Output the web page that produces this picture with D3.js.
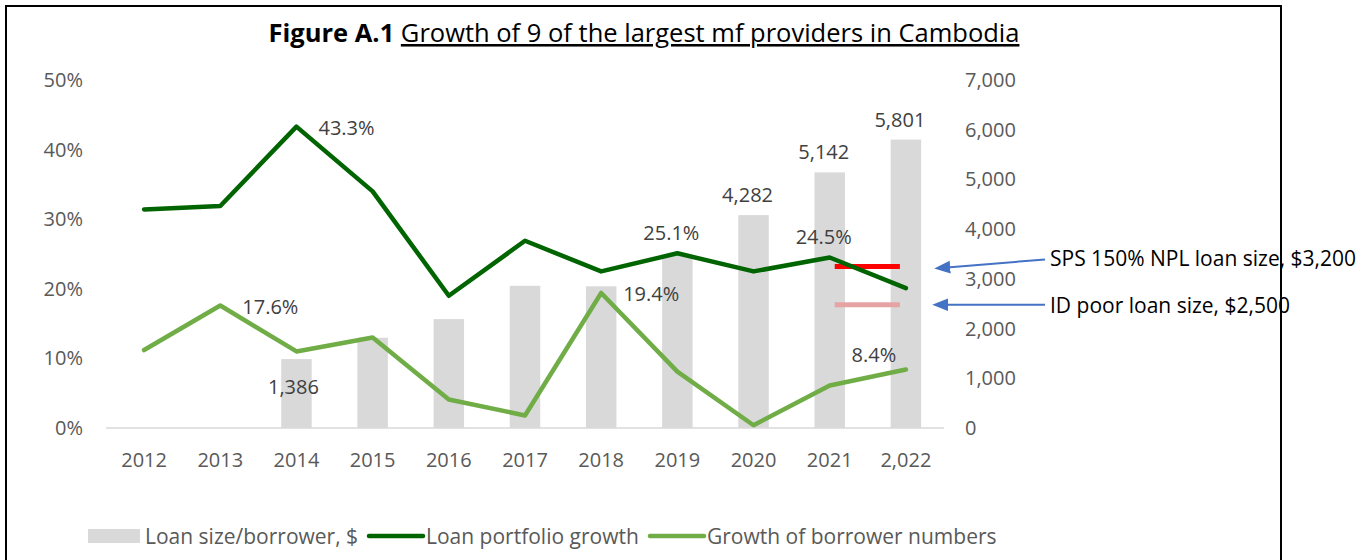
<!DOCTYPE html>
<meta charset="utf-8">
<style>
 body {
   margin: 0;
   background-color: #fff;
 }

 svg {
   font-family: "Open Sans", sans-serif;
 }

 .tick-label {
   fill: #595959;
   font-size: 20px;
 }

 .data-label {
   fill: #404040;
   font-size: 20px;
 }

 .legend text {
   fill: #595959;
   font-size: 21px;
   dominant-baseline: central;
 }

 .note {
   fill: #000;
   font-size: 21px;
   dominant-baseline: central;
 }

 marker {
   fill: #4472c4;
 }
</style>

<svg width="1369" height="560">
  <defs>
    <marker id="arrow" viewBox="0 -5 10 10" refX="2" refY="0" markerWidth="8" markerHeight="8" orient="auto">
      <path d="M0,-4L10,0L0,4z"/>
    </marker>
  </defs>
</svg>

<script src="https://cdn.jsdelivr.net/npm/d3@7"></script>
<script>

 var years = ['2012', '2013', '2014', '2015', '2016', '2017', '2018', '2019', '2020', '2021', '2,022']
 // loan size per borrower, $ (no bar for 2012/2013)
 var loanSize = [null, null, 1386, 1815, 2190, 2860, 2850, 3470, 4282, 5142, 5801]
 // growth, %
 var portfolioGrowth = [31.4, 31.9, 43.3, 34.0, 19.0, 26.9, 22.5, 25.1, 22.5, 24.5, 20.1]
 var borrowerGrowth = [11.2, 17.6, 11.0, 13.0, 4.1, 1.8, 19.4, 8.1, 0.4, 6.1, 8.4]

 var pctTicks = [0, 10, 20, 30, 40, 50]
 var usdTicks = [0, 1000, 2000, 3000, 4000, 5000, 6000, 7000]

 // which points get a value label, and where
 var barLabels = {'2014': 'inside', '2020': 'top', '2021': 'top', '2,022': 'top'}
 var portfolioLabels = {'2014': 'right', '2019': 'top', '2021': 'top'}
 var borrowerLabels = {'2013': 'right', '2018': 'right', '2,022': 'topleft'}

 var spsLoan = 3250
 var idPoorLoan = 2480
 var spsText = 'SPS 150% NPL loan size, $3,200'
 var idText = 'ID poor loan size, $2,500'

 var svg = d3.select('svg')

 // frame
 svg.append('path')
    .attr('d', 'M6,560 L6,6 L1281,6 L1281,560')
    .attr('fill', 'none')
    .attr('stroke', '#000')
    .attr('stroke-width', 2)

 var plotL = 106, plotR = 944, plotT = 80, plotB = 428

 var x = d3.scaleBand()
           .domain(years)
           .range([plotL, plotR])
           .paddingInner(0.6)
           .paddingOuter(0.3)
 var cx = d => x(d) + x.bandwidth() / 2

 var yPct = d3.scaleLinear().domain([0, 50]).range([plotB, plotT])
 var yUsd = d3.scaleLinear().domain([0, 7000]).range([plotB, plotT])

 // title
 var title = svg.append('text')
                .attr('x', 644)
                .attr('y', 42)
                .attr('text-anchor', 'middle')
                .style('font-size', '25.5px')
                .attr('fill', '#000')
 title.append('tspan').attr('font-weight', 'bold').text('Figure A.1 ')
 title.append('tspan').attr('text-decoration', 'underline').text('Growth of 9 of the largest mf providers in Cambodia')

 // axes labels
 svg.append('g').selectAll('text')
    .data(pctTicks)
    .join('text')
    .attr('class', 'tick-label')
    .attr('x', 83)
    .attr('y', d => yPct(d))
    .attr('dy', '0.35em')
    .attr('text-anchor', 'end')
    .text(d => d + '%')

 svg.append('g').selectAll('text')
    .data(usdTicks)
    .join('text')
    .attr('class', 'tick-label')
    .attr('x', 965)
    .attr('y', d => yUsd(d))
    .attr('dy', '0.35em')
    .attr('text-anchor', 'start')
    .text(d3.format(','))

 svg.append('g').selectAll('text')
    .data(years)
    .join('text')
    .attr('class', 'tick-label')
    .attr('x', cx)
    .attr('y', 460)
    .attr('dy', '0.35em')
    .attr('text-anchor', 'middle')
    .text(d => d)

 // bars
 var barData = years.map((d, i) => ({year: d, v: loanSize[i]})).filter(d => d.v != null)
 svg.append('g').selectAll('rect')
    .data(barData)
    .join('rect')
    .attr('x', d => x(d.year))
    .attr('width', x.bandwidth())
    .attr('y', d => yUsd(d.v))
    .attr('height', d => yUsd(0) - yUsd(d.v))
    .attr('fill', '#d9d9d9')

 // baseline
 svg.append('line')
    .attr('x1', plotL).attr('x2', plotR)
    .attr('y1', plotB).attr('y2', plotB)
    .attr('stroke', '#d9d9d9')
    .attr('stroke-width', 1.5)

 // reference loan sizes
 var refX1 = cx('2021') + 5, refX2 = cx('2,022') - 6
 svg.append('line')
    .attr('x1', refX1).attr('x2', refX2)
    .attr('y1', yUsd(spsLoan)).attr('y2', yUsd(spsLoan))
    .attr('stroke', '#ff0000').attr('stroke-width', 5)
 svg.append('line')
    .attr('x1', refX1).attr('x2', refX2)
    .attr('y1', yUsd(idPoorLoan)).attr('y2', yUsd(idPoorLoan))
    .attr('stroke', '#e6a3a3').attr('stroke-width', 5)

 // lines
 var line = d3.line().x(d => cx(d.year)).y(d => yPct(d.v))
 var pData = years.map((d, i) => ({year: d, v: portfolioGrowth[i]}))
 var bData = years.map((d, i) => ({year: d, v: borrowerGrowth[i]}))

 svg.append('path')
    .datum(bData)
    .attr('d', line)
    .attr('fill', 'none')
    .attr('stroke', '#70ad47')
    .attr('stroke-width', 4.5)
    .attr('stroke-linejoin', 'round')
    .attr('stroke-linecap', 'round')

 svg.append('path')
    .datum(pData)
    .attr('d', line)
    .attr('fill', 'none')
    .attr('stroke', '#006400')
    .attr('stroke-width', 4.5)
    .attr('stroke-linejoin', 'round')
    .attr('stroke-linecap', 'round')

 // value labels
 function pointLabel(data, spots, y, fmt) {
   svg.append('g').selectAll('text')
      .data(data.filter(d => spots[d.year]))
      .join('text')
      .attr('class', 'data-label')
      .attr('dy', '0.35em')
      .each(function(d) {
        var pos = spots[d.year], el = d3.select(this)
        var px = cx(d.year), py = y(d.v)
        if (pos == 'right') el.attr('x', px + 22).attr('y', py + 1).attr('text-anchor', 'start')
        else if (pos == 'top') el.attr('x', px - 6).attr('y', py - 20).attr('text-anchor', 'middle')
        else if (pos == 'topleft') el.attr('x', px - 32).attr('y', py - 15).attr('text-anchor', 'middle')
        else if (pos == 'inside') el.attr('x', px - 3).attr('y', py + 28).attr('text-anchor', 'middle')
      })
      .text(fmt)
 }
 pointLabel(barData, barLabels, yUsd, d => d3.format(',')(d.v))
 pointLabel(pData, portfolioLabels, yPct, d => d.v.toFixed(1) + '%')
 pointLabel(bData, borrowerLabels, yPct, d => d.v.toFixed(1) + '%')

 // annotations
 svg.append('line')
    .attr('x1', 1045).attr('y1', yUsd(spsLoan) - 7)
    .attr('x2', 947).attr('y2', yUsd(spsLoan) + 1)
    .attr('stroke', '#4472c4').attr('stroke-width', 2)
    .attr('marker-end', 'url(#arrow)')
 svg.append('text').attr('class', 'note')
    .attr('x', 1050).attr('y', yUsd(spsLoan) - 8)
    .text(spsText)

 svg.append('line')
    .attr('x1', 1045).attr('y1', yUsd(idPoorLoan))
    .attr('x2', 945).attr('y2', yUsd(idPoorLoan))
    .attr('stroke', '#4472c4').attr('stroke-width', 2)
    .attr('marker-end', 'url(#arrow)')
 svg.append('text').attr('class', 'note')
    .attr('x', 1050).attr('y', yUsd(idPoorLoan))
    .text(idText)

 // legend
 var legend = svg.append('g').attr('class', 'legend')
 legend.append('rect')
       .attr('x', 88).attr('y', 529).attr('width', 52).attr('height', 14)
       .attr('fill', '#d9d9d9')
 legend.append('text').attr('x', 145).attr('y', 536).text('Loan size/borrower, $')
 legend.append('line')
       .attr('x1', 369).attr('x2', 423).attr('y1', 536).attr('y2', 536)
       .attr('stroke', '#006400').attr('stroke-width', 4.5).attr('stroke-linecap', 'round')
 legend.append('text').attr('x', 426).attr('y', 536).text('Loan portfolio growth')
 legend.append('line')
       .attr('x1', 650).attr('x2', 704).attr('y1', 536).attr('y2', 536)
       .attr('stroke', '#70ad47').attr('stroke-width', 4.5).attr('stroke-linecap', 'round')
 legend.append('text').attr('x', 707).attr('y', 536).text('Growth of borrower numbers')

</script>
